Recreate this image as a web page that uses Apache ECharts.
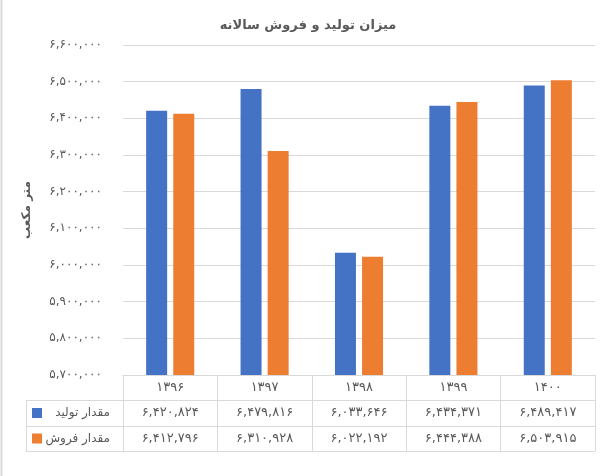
<!DOCTYPE html>
<html>
<head>
<meta charset="utf-8">
<script src="https://cdn.jsdelivr.net/npm/echarts@6/dist/echarts.min.js"></script>
<style>html,body{margin:0;padding:0;background:#fff}#c{width:616px;height:476px}</style>
</head>
<body>
<div id="c"></div>
<script>
const categories = ['۱۳۹۶', '۱۳۹۷', '۱۳۹۸', '۱۳۹۹', '۱۴۰۰'];
const production = [6420824, 6479816, 6033646, 6434371, 6489417];
const sales = [6412796, 6310928, 6022192, 6444388, 6503915];
const seriesNames = ['مقدار تولید', 'مقدار فروش'];
const titleText = 'میزان تولید و فروش سالانه';
const yAxisName = 'متر مکعب';
const yMin = 5700000, yMax = 6600000, yStep = 100000;

const FONT = 'DejaVu Sans';
const TXT = '#595959';
const LINE = '#d9d9d9';
const COLORS = ['#4472C4', '#ED7D31'];

function toFa(s) { return String(s).replace(/\d/g, d => '۰۱۲۳۴۵۶۷۸۹'[d]); }
function fmt(n) { return toFa(Number(n).toLocaleString('en-US')); }

const G = { left: 123, right: 21, top: 45, bottom: 101 };
const W = 616, H = 476;
const axisY = H - G.bottom;           // 375
const rowH = [25, 26, 25];             // header, row1, row2
const tableLeft = 26;
const tableRight = W - G.right;

const chart = echarts.init(document.getElementById('c'), null, { renderer: 'canvas' });

chart.setOption({
  animation: false,
  textStyle: { fontFamily: FONT },
  title: {
    text: titleText, left: 'center', top: 14,
    textStyle: { fontFamily: FONT, fontSize: 13, fontWeight: 'bold', color: TXT }
  },
  grid: { left: G.left, right: G.right, top: G.top, bottom: G.bottom, containLabel: false },
  xAxis: {
    type: 'category', data: categories,
    axisLine: { lineStyle: { color: LINE, width: 1 } },
    axisTick: { show: true, length: rowH[0] + rowH[1] + rowH[2], interval: 0, lineStyle: { color: LINE } },
    axisLabel: { interval: 0, margin: 6, color: TXT, fontSize: 13, fontFamily: FONT }
  },
  yAxis: {
    type: 'value', min: yMin, max: yMax, interval: yStep,
    name: yAxisName, nameLocation: 'middle', nameRotate: 90, nameGap: 90,
    nameTextStyle: { color: TXT, fontSize: 12, fontWeight: 'bold', fontFamily: FONT },
    axisLine: { show: false }, axisTick: { show: false },
    axisLabel: { margin: 21, color: TXT, fontSize: 12, fontFamily: FONT, formatter: v => fmt(v) },
    splitLine: { lineStyle: { color: LINE, width: 1 } }
  },
  series: [
    { name: seriesNames[0], type: 'bar', data: production, barWidth: 21, barGap: '29%', itemStyle: { color: COLORS[0] } },
    { name: seriesNames[1], type: 'bar', data: sales, barWidth: 21, barGap: '29%', itemStyle: { color: COLORS[1] } }
  ]
});

// data table below the axis
const y0 = axisY, y1 = y0 + rowH[0], y2 = y1 + rowH[1], y3 = y2 + rowH[2];
const els = [];
[y1, y2, y3].forEach(y => els.push({
  type: 'line', shape: { x1: tableLeft, y1: y + 0.5, x2: tableRight, y2: y + 0.5 },
  style: { stroke: LINE, lineWidth: 1 }, silent: true
}));
els.push({ type: 'line', shape: { x1: tableLeft + 0.5, y1: y1, x2: tableLeft + 0.5, y2: y3 }, style: { stroke: LINE, lineWidth: 1 } });
// left border of chart area
els.push({ type: 'line', shape: { x1: 1.5, y1: 0, x2: 1.5, y2: H }, style: { stroke: LINE, lineWidth: 2 } });

const rows = [production, sales];
const rowMid = [(y1 + y2) / 2, (y2 + y3) / 2];
rows.forEach((arr, r) => {
  els.push({ type: 'rect', shape: { x: 32, y: rowMid[r] - 5, width: 10, height: 10 }, style: { fill: COLORS[r] } });
  els.push({ type: 'text', x: G.left - 13, y: rowMid[r], style: {
    text: seriesNames[r], fill: TXT, font: `12px "${FONT}"`, align: 'right', verticalAlign: 'middle' } });
  arr.forEach((v, i) => {
    const x = chart.convertToPixel({ xAxisIndex: 0 }, i);
    els.push({ type: 'text', x: x, y: rowMid[r], style: {
      text: fmt(v), fill: TXT, font: `13px "${FONT}"`, align: 'center', verticalAlign: 'middle' } });
  });
});
chart.setOption({ graphic: { elements: els } });
</script>
</body>
</html>
